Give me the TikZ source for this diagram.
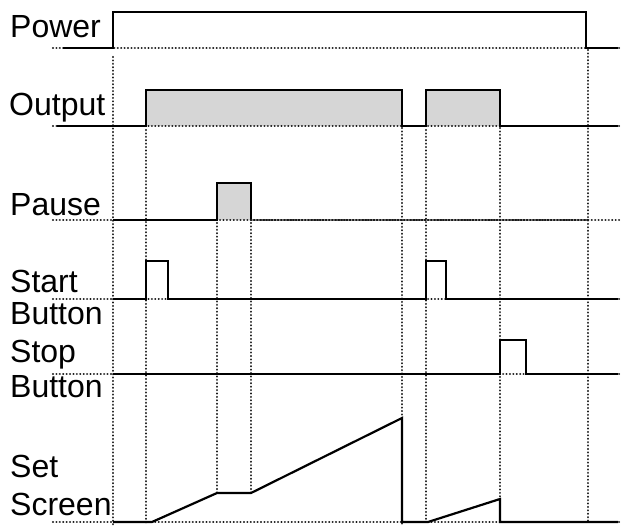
\documentclass[tikz,border=0pt]{standalone}
\usepackage{fontspec}
\setmainfont{Liberation Sans}
\begin{document}
\begin{tikzpicture}[x=1pt,y=-1pt,
  sig/.style={line width=2.2pt,black,line join=miter},
  grid/.style={line width=2.3pt,black!90,line cap=round,dash pattern=on 0.01pt off 3.4pt},
  densegrid/.style={line width=2.3pt,black!90,line cap=round,dash pattern=on 0.8pt off 2.2pt},
  hi/.style={fill=black!16},
  lbl/.style={anchor=base west,inner sep=0pt,font=\fontsize{32}{36}\selectfont}]
\useasboundingbox (0,0) rectangle (623,525);
% labels
\node[lbl] (power) at (10,37) {Power};
\node[lbl] (output) at (9,115) {Output};
\node[lbl] (pause) at (10,215) {Pause};
\node[lbl] (start1) at (10,292) {Start};
\node[lbl] (start2) at (10,324) {Button};
\node[lbl] (stop1) at (10,362) {Stop};
\node[lbl] (stop2) at (10,397) {Button};
\node[lbl] (set1) at (10,477) {Set};
\node[lbl] (set2) at (10,515) {Screen};
% fills
\fill[hi] (146,90) rectangle (402,126);
\fill[hi] (426,90) rectangle (500,126);
\fill[hi] (217,183) rectangle (251,220);
% horizontal dotted baselines
\foreach \y in {48,126,220,299,374,522}
  \draw[grid] (53,\y) -- (622,\y);
% vertical dotted lines
\draw[grid] (113,57) -- (113,525);
\draw[grid] (588,50) -- (588,522);
\draw[grid] (146,130) -- (146,525);
\draw[grid] (402,128) -- (402,525);
\draw[grid] (426,130) -- (426,522);
\draw[grid] (500,128) -- (500,522);
\draw[grid] (217,223) -- (217,493);
\draw[grid] (251,223) -- (251,493);
% signals
\draw[sig] (63,48) -- (113,48) -- (113,12) -- (586,12) -- (586,48) -- (618,48);
\draw[sig] (57,126) -- (146,126) -- (146,90) -- (402,90) -- (402,126) -- (426,126) -- (426,90) -- (500,90) -- (500,126) -- (618,126);
\draw[sig] (113,220) -- (217,220) -- (217,183) -- (251,183) -- (251,220);
\draw[densegrid] (251,220) -- (588,220);
\draw[sig] (113,299) -- (146,299) -- (146,261) -- (168,261) -- (168,299) -- (426,299) -- (426,261) -- (446,261) -- (446,299) -- (618,299);
\draw[sig] (113,374) -- (500,374) -- (500,340) -- (526,340) -- (526,374) -- (618,374);
\draw[sig] (113,522) -- (152,522) -- (217,493) -- (251,493) -- (402,418) -- (402,522) -- (428,522) -- (500,499) -- (500,522) -- (618,522);
\end{tikzpicture}
\end{document}
